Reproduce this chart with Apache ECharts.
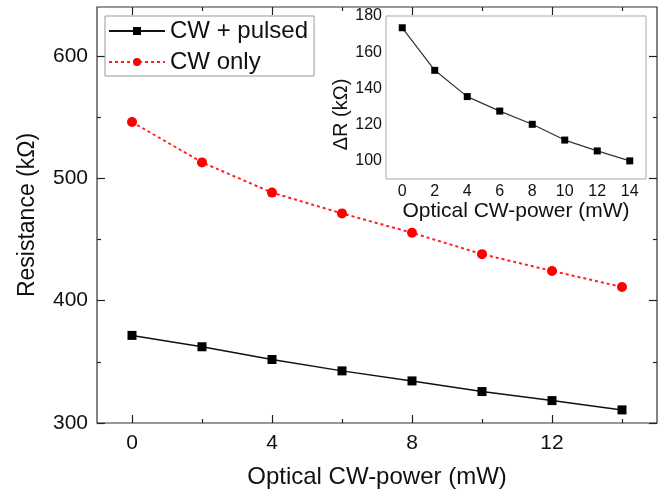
<!DOCTYPE html>
<html><head><meta charset="utf-8">
<script src="https://cdn.jsdelivr.net/npm/echarts@6/dist/echarts.min.js"></script>
<style>html,body{margin:0;padding:0;background:#fff}#c{width:665px;height:498px}</style>
</head><body><div id="c"></div>
<script>
const xValues = [0, 2, 4, 6, 8, 10, 12, 14];
const cwPulsed = [371.6, 362.3, 351.9, 342.6, 334.4, 325.7, 318.3, 310.7];
const cwOnly = [546, 513, 488.3, 471.3, 455.5, 438, 424.3, 411.2];
const deltaR = [173.5, 150, 135.5, 127.5, 120.2, 111.5, 105.5, 100];
const mainXLabels = [0, 4, 8, 12];
const mainXMinor = [2, 6, 10, 14];
const mainYLabels = [300, 400, 500, 600];
const mainYMinor = [350, 450, 550];
const insetXLabels = [0, 2, 4, 6, 8, 10, 12, 14];
const insetXMinor = [1, 3, 5, 7, 9, 11, 13];
const insetYLabels = [100, 120, 140, 160, 180];
const insetYMinor = [110, 130, 150, 170];

const FONT = '"Liberation Sans", Arial, sans-serif';
const pair = (a, b) => a.map((v, i) => [v, b[i]]);

// main grid box: left 97, top 7, width 560, height 416
// inset grid box: left 386, top 16, width 260, height 163
const MAIN_W = 560, MAIN_H = 416, INS_W = 260, INS_H = 163;

function xAx(grid, offset, inside, ticks, len, color, extra) {
  return Object.assign({
    type: 'value', gridIndex: grid, position: 'bottom', min: -1, max: 15, offset: offset,
    axisLine: { show: false, onZero: false },
    axisTick: { show: true, inside: inside, length: len, customValues: ticks, lineStyle: { color: color, width: 1.2 } },
    axisLabel: { show: false },
    splitLine: { show: false }
  }, extra || {});
}
function yAx(grid, offset, inside, min, max, ticks, len, color, extra) {
  return Object.assign({
    type: 'value', gridIndex: grid, position: 'left', min: min, max: max, offset: offset,
    axisLine: { show: false, onZero: false },
    axisTick: { show: true, inside: inside, length: len, customValues: ticks, lineStyle: { color: color, width: 1.2 } },
    axisLabel: { show: false },
    splitLine: { show: false }
  }, extra || {});
}

const option = {
  backgroundColor: '#fff',
  animation: false,
  textStyle: { fontFamily: FONT },
  grid: [
    { left: 97, top: 7, right: 8, bottom: 75, show: true, borderColor: '#333', borderWidth: 1.2, backgroundColor: 'transparent' },
    { left: 386, top: 16, right: 19, bottom: 319, show: true, backgroundColor: '#fff', borderColor: '#aaa', borderWidth: 1, z: 3 }
  ],
  legend: {
    orient: 'vertical', left: 105, top: 16, padding: [3, 6, 2, 3],
    itemWidth: 56, itemHeight: 10, itemGap: 7,
    borderColor: '#999', borderWidth: 1, backgroundColor: '#fff',
    textStyle: { fontSize: 24, color: '#111', fontFamily: FONT },
    data: ['CW + pulsed', 'CW only']
  },
  xAxis: [
    xAx(0, 0, true, mainXLabels, 8, '#222', {
      axisLabel: { show: true, customValues: mainXLabels, fontSize: 21, color: '#111', margin: 10, fontFamily: FONT },
      name: 'Optical CW-power (mW)', nameLocation: 'middle', nameGap: 42,
      nameTextStyle: { fontSize: 24, color: '#111', fontFamily: FONT }
    }),
    xAx(0, 0, true, mainXMinor, 4, '#222'),
    xAx(0, -MAIN_H, false, mainXLabels, 8, '#222'),
    xAx(0, -MAIN_H, false, mainXMinor, 4, '#222'),
    xAx(1, 0, true, insetXLabels, 4, '#999', {
      axisLabel: { show: true, customValues: insetXLabels, fontSize: 16, color: '#111', margin: 5, fontFamily: FONT },
      name: 'Optical CW-power (mW)', nameLocation: 'middle', nameGap: 20,
      nameTextStyle: { fontSize: 21, color: '#111', fontFamily: FONT }
    }),
    xAx(1, 0, true, insetXMinor, 2.5, '#999'),
    xAx(1, -INS_H, false, insetXLabels, 4, '#999'),
    xAx(1, -INS_H, false, insetXMinor, 2.5, '#999')
  ],
  yAxis: [
    yAx(0, 0, true, 300, 640, mainYLabels, 8, '#222', {
      axisLabel: { show: true, customValues: mainYLabels, fontSize: 21, color: '#111', margin: 9, fontFamily: FONT },
      name: 'Resistance (kΩ)', nameLocation: 'middle', nameGap: 58, nameRotate: 90,
      nameTextStyle: { fontSize: 23, color: '#111', fontFamily: FONT }
    }),
    yAx(0, 0, true, 300, 640, mainYMinor, 4, '#222'),
    yAx(0, -MAIN_W, false, 300, 640, mainYLabels, 8, '#222'),
    yAx(0, -MAIN_W, false, 300, 640, mainYMinor, 4, '#222'),
    yAx(1, 0, true, 90, 180, insetYLabels, 4, '#999', {
      axisLabel: { show: true, customValues: insetYLabels, fontSize: 16, color: '#111', margin: 4, fontFamily: FONT },
      name: 'ΔR (kΩ)', nameLocation: 'middle', nameGap: 35, nameRotate: 90,
      nameTextStyle: { fontSize: 20, color: '#111', fontFamily: FONT, padding: [0, 34, 0, 0] }
    }),
    yAx(1, 0, true, 90, 180, insetYMinor, 2.5, '#999'),
    yAx(1, -INS_W, false, 90, 180, insetYLabels, 4, '#999'),
    yAx(1, -INS_W, false, 90, 180, insetYMinor, 2.5, '#999')
  ],
  series: [
    {
      name: 'CW + pulsed', type: 'line', xAxisIndex: 0, yAxisIndex: 0,
      data: pair(xValues, cwPulsed),
      symbol: 'rect', symbolSize: 9,
      itemStyle: { color: '#000' },
      lineStyle: { color: '#111', width: 1.5 }
    },
    {
      name: 'CW only', type: 'line', xAxisIndex: 0, yAxisIndex: 0,
      data: pair(xValues, cwOnly),
      symbol: 'circle', symbolSize: 10,
      itemStyle: { color: '#ff0000' },
      lineStyle: { color: '#ff2020', width: 2, type: [3, 3] }
    },
    {
      name: 'ΔR', type: 'line', xAxisIndex: 4, yAxisIndex: 4,
      data: pair(xValues, deltaR),
      symbol: 'rect', symbolSize: 7, z: 5,
      itemStyle: { color: '#000' },
      lineStyle: { color: '#333', width: 1.2 }
    }
  ]
};
echarts.init(document.getElementById('c')).setOption(option);
</script>
</body></html>
